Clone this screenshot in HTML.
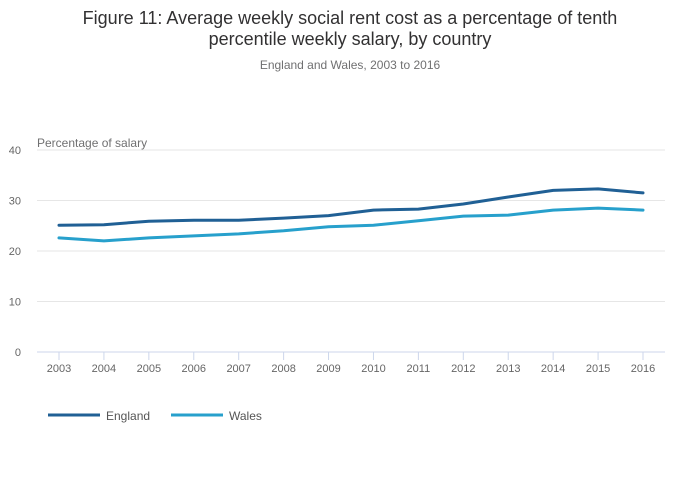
<!DOCTYPE html>
<html><head><meta charset="utf-8"><style>
body{margin:0;background:#fff;font-family:"Liberation Sans",sans-serif;}
#wrap{position:relative;width:700px;height:502px;overflow:hidden}
</style></head><body>
<div id="wrap">
<svg id="chart" width="700" height="502"></svg>
</div>
<script>
const years=["2003","2004","2005","2006","2007","2008","2009","2010","2011","2012","2013","2014","2015","2016"];
const england=[25.1,25.2,25.9,26.1,26.1,26.5,27.0,28.1,28.3,29.3,30.7,32.0,32.3,31.5];
const wales=[22.6,22.0,22.6,23.0,23.4,24.0,24.8,25.1,26.0,26.9,27.1,28.1,28.5,28.1];
const yTicks=[0,10,20,30,40];
const NS="http://www.w3.org/2000/svg";
const svg=document.getElementById('chart');
function mk(t,a,txt){const e=document.createElementNS(NS,t);for(const k in a)e.setAttribute(k,a[k]);if(txt!=null)e.textContent=txt;svg.appendChild(e);return e;}
const x0=59,x1=643,yb=352,yt=150;
const xs=i=>x0+i*(x1-x0)/(years.length-1);
const ys=v=>yb-(v/40)*(yb-yt);
let e;
e=mk('text',{x:350,y:24,'text-anchor':'middle','font-size':18,fill:'#323132'},'Figure 11: Average weekly social rent cost as a percentage of tenth');

e=mk('text',{x:350,y:45,'text-anchor':'middle','font-size':18,fill:'#323132'},'percentile weekly salary, by country');

e=mk('text',{x:350,y:69,'text-anchor':'middle','font-size':12,fill:'#707071'},'England and Wales, 2003 to 2016');

e=mk('text',{x:37,y:147,'font-size':12,fill:'#707071'},'Percentage of salary');

yTicks.forEach(v=>{
 const g=mk('line',{x1:37,x2:665,y1:ys(v),y2:ys(v),stroke:v===0?'#ccd6eb':'#e6e6e6','stroke-width':1});
 
 const t=mk('text',{x:21,y:ys(v)+4,'text-anchor':'end','font-size':11,fill:'#666'},String(v));
 
});
years.forEach((y,i)=>{
 const tk=mk('line',{x1:xs(i),x2:xs(i),y1:yb,y2:yb+8,stroke:'#ccd6eb'});
 
 const t=mk('text',{x:xs(i),y:372,'text-anchor':'middle','font-size':11,fill:'#666'},y);
 
});
function line(data,color,name){
 const p=mk('path',{d:data.map((v,i)=>(i?'L':'M')+xs(i)+' '+ys(v)).join(' '),fill:'none',stroke:color,'stroke-width':3,'stroke-linejoin':'round','stroke-linecap':'round'});
 
}
line(england,'#206095','england-line');
line(wales,'#27a0cc','wales-line');
function legend(x,color,label,name){
 const l=mk('line',{x1:x,x2:x+52,y1:415,y2:415,stroke:color,'stroke-width':3});
 
 const t=mk('text',{x:x+58,y:420,'font-size':12,fill:'#555'},label);
 
}
legend(48,'#206095','England','legend-england');
legend(171,'#27a0cc','Wales','legend-wales');
</script>
</body></html>
